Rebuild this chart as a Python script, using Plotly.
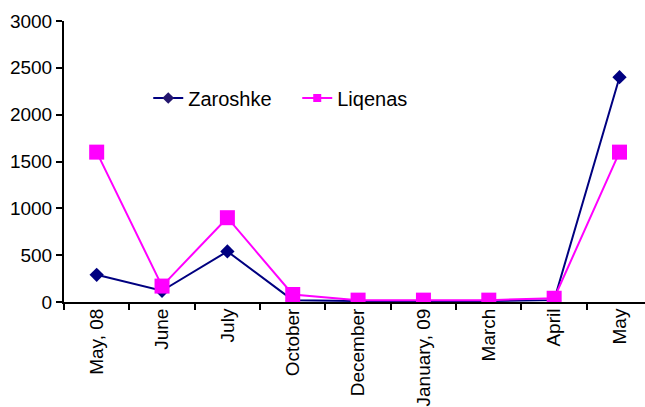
import plotly.graph_objects as go

months = ["May, 08", "June", "July", "October", "December",
          "January, 09", "March", "April", "May"]
zaroshke = [290, 120, 540, 20, 10, 10, 10, 20, 2400]
liqenas = [1600, 170, 900, 80, 20, 20, 20, 40, 1600]
y_ticks = [0, 500, 1000, 1500, 2000, 2500, 3000]

NAVY = "#000080"
MAGENTA = "#FF00FF"
FONT = "Liberation Sans, Arial, sans-serif"

fig = go.Figure()

fig.add_trace(go.Scatter(
    x=months, y=zaroshke, mode="lines+markers", showlegend=False,
    line=dict(color=NAVY, width=2),
    marker=dict(symbol="diamond", size=11, color=NAVY),
))
fig.add_trace(go.Scatter(
    x=months, y=liqenas, mode="lines+markers", showlegend=False,
    line=dict(color=MAGENTA, width=2),
    marker=dict(symbol="square", size=15, color=MAGENTA),
))

# legend entries with smaller symbols
fig.add_trace(go.Scatter(
    x=[None], y=[None], mode="lines+markers", name="Zaroshke",
    line=dict(color=NAVY, width=2),
    marker=dict(symbol="diamond", size=9, color="#24166e"),
))
fig.add_trace(go.Scatter(
    x=[None], y=[None], mode="lines+markers", name="Liqenas",
    line=dict(color=MAGENTA, width=2),
    marker=dict(symbol="square", size=8, color=MAGENTA),
))

fig.update_layout(
    width=645, height=407,
    margin=dict(l=64, r=0, t=21, b=105),
    paper_bgcolor="white", plot_bgcolor="white",
    font=dict(family=FONT, size=19, color="black"),
    legend=dict(
        orientation="h", x=0.145, y=0.726, xanchor="left", yanchor="middle",
        bgcolor="rgba(0,0,0,0)", font=dict(size=20),
        entrywidth=104, entrywidthmode="pixels",
        tracegroupgap=0,
    ),
    xaxis=dict(
        type="category", categoryorder="array", categoryarray=months,
        range=[-0.5, 8.39], tickangle=-90, tickson="boundaries",
        showline=True, linecolor="black", linewidth=2,
        ticks="outside", ticklen=6, tickwidth=2, tickcolor="black",
        ticklabelstandoff=-3,
        showgrid=False, zeroline=False,
    ),
    yaxis=dict(
        range=[0, 3000], tickvals=y_ticks,
        showline=True, linecolor="black", linewidth=2,
        ticks="outside", ticklen=6, tickwidth=2, tickcolor="black",
        showgrid=False, zeroline=False,
    ),
)

fig.write_html("out.html")
